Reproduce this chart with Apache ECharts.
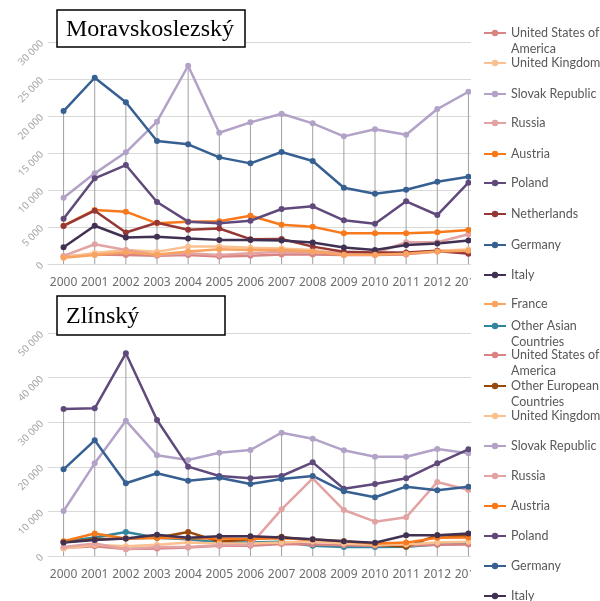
<!DOCTYPE html>
<html>
<head>
<meta charset="utf-8">
<script src="https://cdn.jsdelivr.net/npm/echarts@6.0.0/dist/echarts.min.js"></script>
<style>
  html, body { margin: 0; padding: 0; background: #fff; }
  #main { width: 600px; height: 601px; }
</style>
</head>
<body>
<div id="main"></div>
<script>
// years on the x axis (both panels)
var years = ['2000', '2001', '2002', '2003', '2004', '2005', '2006', '2007', '2008', '2009', '2010', '2011', '2012', '2013'];

// Moravskoslezský
var msUSA         = [1000, 1300, 1200, 1100, 1200, 1000, 1100, 1300, 1300, 1200, 1200, 1300, 1700, 1500];
var msUK          = [900, 1500, 1900, 1650, 2350, 2350, 2200, 2100, 1900, 1350, 1400, 1450, 1800, 1950];
var msSlovak      = [8960, 12250, 15090, 19230, 26790, 17740, 19140, 20310, 19010, 17250, 18200, 17470, 20940, 23280];
var msRussia      = [1090, 2670, 1900, 1220, 1450, 1220, 1450, 1670, 1670, 1500, 1450, 2940, 2940, 4030];
var msAustria     = [5180, 7300, 7070, 5500, 5720, 5770, 6530, 5310, 5040, 4140, 4140, 4140, 4280, 4600];
var msPoland      = [6120, 11580, 13370, 8380, 5720, 5500, 5850, 7430, 7790, 5900, 5450, 8470, 6620, 10990];
var msNetherlands = [5150, 7200, 4260, 5580, 4620, 4800, 3360, 3380, 2350, 1670, 1550, 1550, 1800, 1400];
var msGermany     = [20670, 25170, 21850, 16620, 16170, 14410, 13600, 15130, 13920, 10310, 9500, 10040, 11120, 11800];
var msItaly       = [2270, 5170, 3580, 3670, 3440, 3260, 3260, 3170, 2900, 2220, 1900, 2580, 2760, 3170];
var msFrance      = [850, 1200, 1600, 1300, 1700, 2000, 1900, 1900, 1700, 1250, 1250, 1400, 1700, 1800];

// Zlínský
var zlOtherAsian  = [3180, 4150, 5400, 4070, 3770, 3030, 3030, 3180, 2290, 2000, 2000, 2070, 2590, 2810];
var zlUSA         = [1800, 2200, 1550, 1700, 1900, 2300, 2300, 2700, 2600, 2400, 2300, 2300, 2500, 2600];
var zlOtherEurope = [3100, 3770, 3920, 4070, 5400, 3200, 3770, 4290, 3400, 3030, 2590, 2070, 4660, 4440];
var zlUK          = [1700, 2500, 2200, 2500, 3000, 2800, 2800, 3000, 3300, 2800, 2500, 2600, 3000, 3200];
var zlSlovak      = [10090, 20780, 30340, 22570, 21520, 23160, 23770, 27650, 26300, 23690, 22270, 22270, 23990, 23020];
var zlRussia      = [2000, 2800, 1500, 2000, 2000, 2400, 2500, 10470, 17410, 10310, 7690, 8670, 16590, 14800];
var zlAustria     = [3300, 5030, 3920, 4100, 4000, 3920, 3800, 4000, 3700, 3300, 2800, 3000, 4070, 4150];
var zlPoland      = [32960, 33110, 45440, 30490, 20030, 17940, 17410, 17940, 21000, 15090, 16140, 17410, 20780, 23920];
var zlGermany     = [19430, 25940, 16300, 18540, 16890, 17560, 16140, 17260, 17940, 14500, 13160, 15540, 14730, 15540];
var zlItaly       = [3000, 3600, 3900, 4740, 4100, 4440, 4440, 4150, 3770, 3330, 2960, 4660, 4660, 5030];

var colors = {
    'United States of America': '#d98383',
    'United Kingdom': '#fac08f',
    'Slovak Republic': '#b3a2c7',
    'Russia': '#e3a3a3',
    'Austria': '#f7791c',
    'Poland': '#604a7b',
    'Netherlands': '#953735',
    'Germany': '#376092',
    'Italy': '#403152',
    'France': '#f8a35f',
    'Other Asian Countries': '#31859c',
    'Other European Countries': '#984807'
};

var topSeries = [
    ['United States of America', msUSA], ['United Kingdom', msUK], ['Slovak Republic', msSlovak],
    ['Russia', msRussia], ['Austria', msAustria], ['Poland', msPoland], ['Netherlands', msNetherlands],
    ['Germany', msGermany], ['Italy', msItaly], ['France', msFrance]
];
var bottomSeries = [
    ['Other Asian Countries', zlOtherAsian], ['United States of America', zlUSA],
    ['Other European Countries', zlOtherEurope], ['United Kingdom', zlUK], ['Slovak Republic', zlSlovak],
    ['Russia', zlRussia], ['Austria', zlAustria], ['Poland', zlPoland], ['Germany', zlGermany], ['Italy', zlItaly]
];

// legend rows: name, centre y, number of text lines
var legendRows = [
    ['United States of America', 33, 2], ['United Kingdom', 63, 1], ['Slovak Republic', 94, 1],
    ['Russia', 123, 1], ['Austria', 154, 1], ['Poland', 183, 1], ['Netherlands', 214, 1],
    ['Germany', 245, 1], ['Italy', 275, 1], ['France', 304, 1],
    ['Other Asian Countries', 326, 2], ['United States of America', 355, 2],
    ['Other European Countries', 386, 2], ['United Kingdom', 416, 1], ['Slovak Republic', 446, 1],
    ['Russia', 476, 1], ['Austria', 506, 1], ['Poland', 536, 1], ['Germany', 566, 1], ['Italy', 596, 1]
];
// blank first line keeps the first text line level with the icon
var wrapped = {
    'United States of America': '\nUnited States of\nAmerica',
    'Other Asian Countries': '\nOther Asian\nCountries',
    'Other European Countries': '\nOther European\nCountries'
};

function spaced(v) {
    return String(v).replace(/\B(?=(\d{3})+(?!\d))/g, ' ');
}

function lineSeries(item, idx) {
    var c = colors[item[0]];
    return {
        name: item[0],
        type: 'line',
        xAxisIndex: idx,
        yAxisIndex: idx,
        data: item[1],
        symbol: 'circle',
        symbolSize: 6,
        lineStyle: { width: 2.5, color: c },
        itemStyle: { color: c },
        z: 3
    };
}

// vertical drop lines up to the highest point of each year
function dropLine(list, idx) {
    var maxes = years.map(function (y, i) {
        return Math.max.apply(null, list.map(function (s) { return s[1][i]; }));
    });
    return {
        type: 'bar',
        xAxisIndex: idx,
        yAxisIndex: idx,
        data: maxes,
        barWidth: 1,
        silent: true,
        itemStyle: { color: '#a0a0a0' },
        z: 1
    };
}

function xAxis(idx) {
    return {
        type: 'category',
        gridIndex: idx,
        data: years,
        axisTick: { show: false },
        axisLine: { lineStyle: { color: '#d9d9d9' } },
        axisLabel: { interval: 0, margin: 13, color: '#6d6d6d', fontSize: 12, fontFamily: 'Noto Sans' }
    };
}

function yAxis(idx, max, step) {
    return {
        type: 'value',
        gridIndex: idx,
        min: 0,
        max: max,
        interval: step,
        axisLine: { show: false },
        axisTick: { show: false },
        splitLine: { lineStyle: { color: '#d9d9d9', width: 1 } },
        axisLabel: { rotate: 45, margin: 6, color: '#a6a6a6', fontSize: 10, fontFamily: 'Noto Sans', formatter: spaced }
    };
}

function titleBox(text, x, y, w, h) {
    return {
        type: 'group',
        z: 10,
        children: [
            { type: 'rect', shape: { x: x, y: y, width: w, height: h }, style: { fill: '#fff', stroke: '#000', lineWidth: 1.5 }, z: 10 },
            { type: 'text', x: x + 9, y: y + h / 2 + 1, style: { text: text, fill: '#000', font: '24px "Liberation Serif"', verticalAlign: 'middle' }, z: 11 }
        ]
    };
}

var series = topSeries.map(function (s) { return lineSeries(s, 0); })
    .concat(bottomSeries.map(function (s) { return lineSeries(s, 1); }));
series.unshift(dropLine(topSeries, 0), dropLine(bottomSeries, 1));

var legends = legendRows.map(function (row) {
    var two = row[2] === 2;
    return {
        data: [row[0]],
        orient: 'vertical',
        left: 483,
        top: two ? row[1] - 24 : row[1] - 8,
        padding: 0,
        itemWidth: 22,
        itemHeight: 8,
        selectedMode: false,
        z: 20,
        formatter: function (n) { return two ? wrapped[n] : n; },
        textStyle: { color: '#595959', fontSize: 12.5, fontFamily: 'Lato', lineHeight: 16 }
    };
});

var myChart = echarts.init(document.getElementById('main'));
var option = {
    animation: false,
    backgroundColor: '#fff',
    grid: [
        { left: 48, top: 42, width: 436, height: 222 },
        { left: 48, top: 333, width: 436, height: 223 }
    ],
    xAxis: [xAxis(0), xAxis(1)],
    yAxis: [yAxis(0, 30000, 5000), yAxis(1, 50000, 10000)],
    legend: legends,
    graphic: [
        // the chart pictures are cut off where the legend column starts
        { type: 'rect', shape: { x: 471, y: 0, width: 129, height: 601 }, style: { fill: '#fff' }, z: 9 },
        titleBox('Moravskoslezský', 57, 10, 188, 37),
        titleBox('Zlínský', 57, 296, 168, 39)
    ],
    series: series
};
myChart.setOption(option);
</script>
</body>
</html>
